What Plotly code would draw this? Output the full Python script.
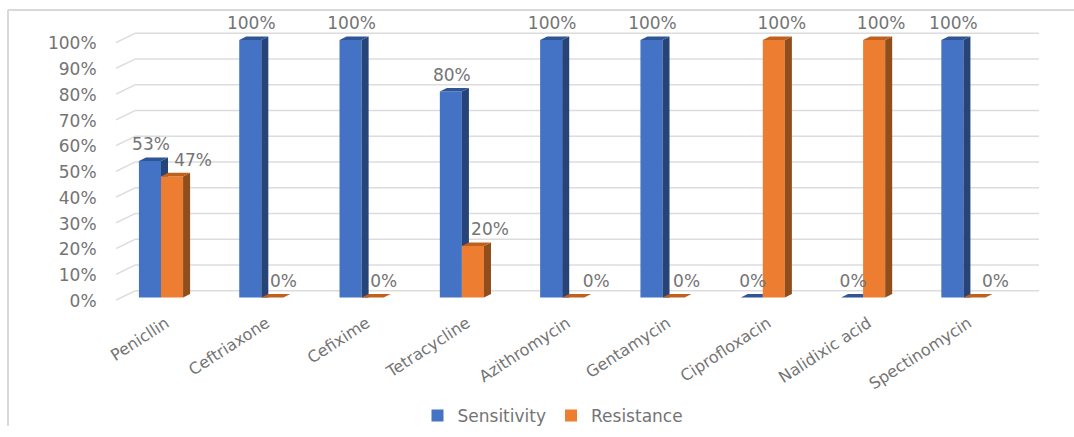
import plotly.graph_objects as go

categories = ["Penicllin", "Ceftriaxone", "Cefixime", "Tetracycline", "Azithromycin",
              "Gentamycin", "Ciprofloxacin", "Nalidixic acid", "Spectinomycin"]
sensitivity = [53, 100, 100, 80, 100, 100, 0, 0, 100]
resistance = [47, 0, 0, 20, 0, 0, 100, 100, 0]
y_ticks = [0, 10, 20, 30, 40, 50, 60, 70, 80, 90, 100]

W, H = 1074, 437
PX_X = 100.3          # pixels per category
PX_Y = 2.575          # pixels per percent
ORIGIN = 161          # pixel of the first category
BAR = 0.22            # bar width in category units
DX, DY = 0.07, 1.4    # bar depth, in axis units
FRONT, BACK = -1.0, 2.6   # wall offsets, in percent
X0, X1 = (116 - ORIGIN) / PX_X, (1039 - ORIGIN) / PX_X
XB = (135 - ORIGIN) / PX_X
BOT, TOP = -(310 - 297.5) / PX_Y, 100 + (40 - 10) / PX_Y

BLUE, BLUE_S, BLUE_T = "#4472C4", "#264478", "#2F5597"
ORNG, ORNG_S, ORNG_T = "#ED7D31", "#8F4E1C", "#C0601F"
GRID = "#DCDCDC"
TXT = "#747474"
FONT = "DejaVu Sans"

# horizontal nudges of the value labels, in category units
nudge_s = [0, 0, 0, 0, 0, 0, 0, 0, 0]
nudge_r = [0.21, 0.11, 0.11, 0.17, 0.23, 0.13, 0.08, 0.07, 0.21]

fig = go.Figure()
xs = list(range(len(categories)))

fig.add_bar(x=xs, y=sensitivity, width=BAR, offset=-BAR, marker=dict(color=BLUE, line_width=0),
            name="Sensitivity", hoverinfo="skip")
fig.add_bar(x=xs, y=resistance, width=BAR, offset=0, marker=dict(color=ORNG, line_width=0),
            name="Resistance", hoverinfo="skip")


def poly(px, py, color):
    fig.add_scatter(x=px, y=py, mode="lines", fill="toself", fillcolor=color,
                    line=dict(width=0, color=color), showlegend=False, hoverinfo="skip")


# depth faces of the blue bars: hidden by the orange bar in front of them
for i, (s, r) in enumerate(zip(sensitivity, resistance)):
    if s > r:
        poly([i, i + DX, i + DX, i, i], [s, s + DY, r, r, s], BLUE_S)
        poly([i - BAR, i - BAR + DX, i + DX, i, i - BAR], [s, s + DY, s + DY, s, s], BLUE_T)
    else:
        poly([i - BAR, i - BAR + DX, i, i, i - BAR], [s, s + DY, s + DY, s, s], BLUE_T)

# depth faces of the orange bars
for i, r in enumerate(resistance):
    poly([i + BAR, i + BAR + DX, i + BAR + DX, i + BAR, i + BAR], [r, r + DY, DY, 0, r], ORNG_S)
    poly([i, i + DX, i + BAR + DX, i + BAR, i], [r, r + DY, r + DY, r, r], ORNG_T)

# value labels
lab_x, lab_y, lab_t = [], [], []
for i, (s, r) in enumerate(zip(sensitivity, resistance)):
    lab_x += [i - BAR / 2 + nudge_s[i] + 0.01, i + BAR / 2 + nudge_r[i]]
    lab_y += [s + 5.9, r + 5.9]
    lab_t += [f"{s}%", f"{r}%"]
fig.add_scatter(x=lab_x, y=lab_y, text=lab_t, mode="text", showlegend=False, hoverinfo="skip",
                textposition="middle center", textfont=dict(family=FONT, size=17, color=TXT),
                cliponaxis=False)

# back wall and side wall gridlines, beneath the bars
shapes = []
for v in y_ticks:
    shapes.append(dict(type="line", xref="x", yref="y", x0=X0, x1=XB, y0=v + FRONT, y1=v + BACK,
                       layer="below", line=dict(color=GRID, width=1.5)))
    shapes.append(dict(type="line", xref="x", yref="y", x0=XB, x1=X1, y0=v + BACK, y1=v + BACK,
                       layer="below", line=dict(color=GRID, width=1.5)))
# picture frame
shapes.append(dict(type="line", xref="paper", yref="paper", x0=8 / W, x1=1, y0=1 - 10 / H, y1=1 - 10 / H,
                   layer="below", line=dict(color="#D9D9D9", width=2)))
shapes.append(dict(type="line", xref="paper", yref="paper", x0=8 / W, x1=8 / W, y0=1 - 10 / H, y1=1 - 426 / H,
                   layer="below", line=dict(color="#D9D9D9", width=2)))

fig.update_layout(
    width=W, height=H, margin=dict(l=0, r=0, t=0, b=0),
    paper_bgcolor="white", plot_bgcolor="white", barmode="overlay",
    font=dict(family=FONT, color=TXT, size=15),
    shapes=shapes,
    legend=dict(orientation="h", x=553 / W, xanchor="center", y=1 - 416 / H, yanchor="middle",
                font=dict(family=FONT, size=17, color=TXT), itemwidth=30, traceorder="normal"),
    xaxis=dict(domain=[116 / W, 1039 / W], range=[X0, X1], tickmode="array", automargin=False,
               tickvals=[i + 0.05 for i in xs], ticktext=categories, tickangle=-33,
               showgrid=False, zeroline=False, showline=False, ticks="",
               tickfont=dict(family=FONT, size=16, color=TXT)),
    yaxis=dict(domain=[1 - 310 / H, 1 - 10 / H], range=[BOT, TOP], tickmode="array", automargin=False,
               tickvals=[v - 1.3 for v in y_ticks], ticktext=[f"{v}%" for v in y_ticks],
               showgrid=False, zeroline=False, showline=False, ticks="outside", ticklen=15,
               tickcolor="rgba(0,0,0,0)", tickfont=dict(family=FONT, size=17, color=TXT)),
)

fig.write_html("out.html", post_script="document.body.style.margin='0';",
               config={"displayModeBar": False})
